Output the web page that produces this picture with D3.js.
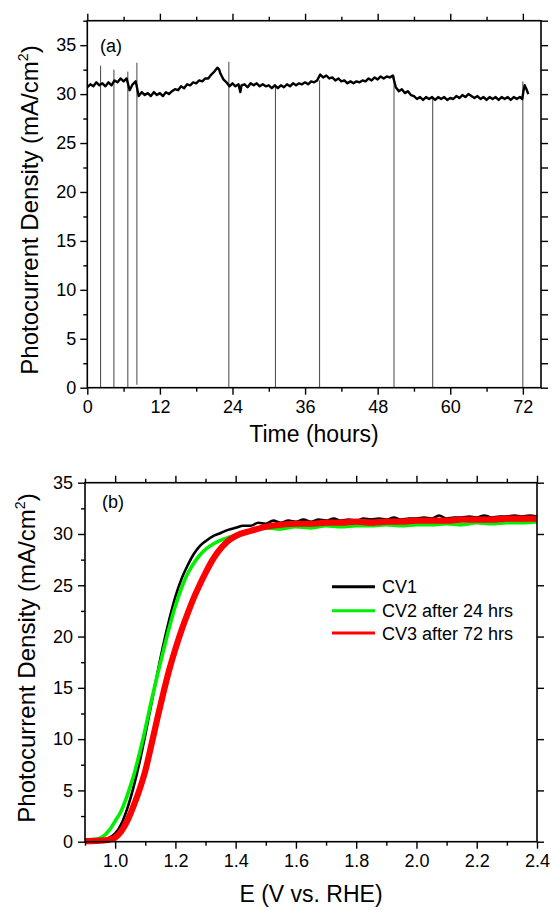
<!DOCTYPE html>
<html>
<head>
<meta charset="utf-8">
<script src="https://cdn.jsdelivr.net/npm/d3@7"></script>
<style>
  body { margin: 0; background: #fff; }
  svg { display: block; font-family: "Liberation Sans", Arial, sans-serif; }
</style>
</head>
<body>
<div id="chart"></div>
<script>
// ---- panel (a): stability run, [hours, mA/cm2] ----
const timeTrace = [
  [0,30.7],[0.5,31.0],[1,30.8],[1.5,31.2],[2,30.9],
  [2.5,31.1],[3,30.8],[3.5,31.2],[4,30.9],
  [4.5,31.4],[5,31.2],[5.5,31.6],[6,31.3],[6.5,31.6],
  [7,30.4],[7.5,31.0],[8,31.3],
  [8.5,29.8],[9,30.2],[9.5,29.9],[10,30.1],[10.5,29.8],[11,30.2],[11.5,29.9],[12,30.1],[12.5,29.8],[13,30.2],[13.5,30.0],
  [14,30.3],[14.5,30.5],[15,30.4],[15.5,30.8],[16,30.6],[16.5,31.0],[17,30.9],[17.5,31.2],[18,31.1],[18.5,31.4],[19,31.3],
  [19.5,31.6],[20,31.6],[20.5,32.0],[21,32.3],[21.5,32.7],[21.8,32.5],[22,32.1],[22.5,31.5],[23,31.2],
  [23.5,30.8],[24,31.1],[24.5,30.8],[25,31.0],[25.3,30.2],[25.5,30.9],[26,31.0],[26.5,30.7],[27,31.1],[27.5,30.9],[28,31.1],
  [28.5,30.8],[29,31.0],[29.5,30.8],[30,30.9],[30.5,30.6],[31,30.9],
  [31.5,30.6],[32,30.9],[32.5,30.7],[33,31.0],[33.5,30.8],[34,31.1],[34.5,30.9],[35,31.1],[35.5,31.0],[36,31.2],
  [36.5,31.0],[37,31.3],[37.5,31.2],[38,31.4],
  [38.5,32.0],[39,31.7],[39.5,31.9],[40,31.6],[40.5,31.7],[41,31.4],[41.5,31.6],[42,31.3],[42.5,31.4],[43,31.1],
  [43.5,31.3],[44,31.1],[44.5,31.3],[45,31.2],[45.5,31.4],[46,31.3],[46.5,31.6],[47,31.4],[47.5,31.7],[48,31.5],
  [48.5,31.8],[49,31.6],[49.5,31.8],[50,31.7],[50.5,31.9],
  [51,30.7],[51.5,30.3],[52,30.5],[52.5,30.1],[53,30.3],[53.5,29.9],[54,29.8],[54.5,29.5],[55,29.7],[55.5,29.4],
  [56,29.7],[56.5,29.5],[57,29.7],
  [57.5,29.4],[58,29.7],[58.5,29.5],[59,29.7],[59.5,29.4],[60,29.6],[60.5,29.5],[61,29.8],[61.5,29.6],[62,29.9],
  [62.5,29.7],[63,30.0],[63.5,29.8],[64,29.6],[64.5,29.8],[65,29.5],[65.5,29.7],[66,29.4],[66.5,29.7],[67,29.5],
  [67.5,29.7],[68,29.4],[68.5,29.7],[69,29.5],[69.5,29.7],[70,29.4],[70.5,29.7],[71,29.5],[71.5,29.7],[71.9,29.5],
  [72.1,30.3],[72.3,30.9],[72.6,30.5],[72.9,30.0]
];
// light-off interruptions
const spikeHours = [2.2, 4.4, 6.7, 8.2, 23.4, 31.1, 38.4, 50.7, 57.1, 72.0];
const spikeTop   = [32.9, 32.5, 32.3, 33.2, 33.3, 31.0, 31.4, 31.9, 29.7, 31.3];
const spikeLow   = [0, 0, 0, 0.3, 0, 0, 0, 0, 0, 0];

const hourTicks = [0, 12, 24, 36, 48, 60, 72];
const hourMinor = [6, 18, 30, 42, 54, 66];
const jTicksA = [0, 5, 10, 15, 20, 25, 30, 35];
const jMinorA = [2.5, 7.5, 12.5, 17.5, 22.5, 27.5, 32.5, 37.5];

// ---- panel (b): CV scans, [E V vs RHE, mA/cm2] ----
const cv1 = [
  [0.90,0.05],[0.94,0.1],[0.97,0.25],[0.99,0.55],[1.00,0.8],[1.02,1.7],[1.04,3.2],[1.06,5.2],[1.08,7.6],[1.10,10.4],
  [1.12,13.4],[1.14,16.4],[1.16,19.2],[1.18,21.7],[1.20,23.9],[1.22,25.6],[1.24,26.9],[1.26,28.0],[1.28,28.8],
  [1.300,29.3],[1.325,29.8],[1.350,30.1],[1.375,30.4],[1.400,30.6],[1.425,30.8],[1.450,30.8],[1.475,31.1],[1.500,31.0],
  [1.525,31.3],[1.550,31.1],[1.575,31.3],[1.600,31.2],[1.625,31.4],[1.650,31.2],[1.675,31.4],[1.700,31.3],[1.725,31.5],
  [1.750,31.3],[1.775,31.4],[1.800,31.3],[1.825,31.5],[1.850,31.4],[1.875,31.5],[1.900,31.4],[1.925,31.6],[1.950,31.4],
  [1.975,31.5],[2.000,31.5],[2.025,31.6],[2.050,31.5],[2.075,31.8],[2.100,31.5],[2.125,31.6],[2.150,31.6],[2.175,31.7],
  [2.200,31.6],[2.225,31.8],[2.250,31.6],[2.275,31.7],[2.300,31.7],[2.325,31.8],[2.350,31.7],[2.375,31.8],[2.400,31.7]
];
const cv2 = [
  [0.90,0.15],[0.94,0.25],[0.96,0.5],[0.98,1.1],[1.00,2.0],[1.02,3.0],[1.04,4.5],[1.06,6.3],[1.08,8.5],[1.10,11.0],
  [1.12,13.7],[1.14,16.2],[1.16,18.6],[1.18,20.9],[1.20,23.0],[1.22,24.7],[1.24,26.1],[1.26,27.1],[1.28,27.9],
  [1.30,28.5],[1.33,29.1],[1.36,29.5],[1.40,29.9],[1.45,30.3],[1.50,30.6],[1.55,30.5],[1.60,30.7],[1.65,30.6],
  [1.70,30.8],[1.75,30.7],[1.80,30.8],[1.85,30.8],[1.90,30.9],[1.95,30.8],[2.00,30.9],[2.05,30.9],[2.10,31.0],
  [2.15,30.9],[2.20,31.1],[2.25,31.0],[2.30,31.1],[2.35,31.1],[2.40,31.2]
];
const cv3 = [
  [0.90,0.05],[0.95,0.1],[0.98,0.2],[1.00,0.4],[1.02,1.0],[1.04,2.0],[1.06,3.4],[1.08,5.0],[1.10,6.9],[1.12,9.4],
  [1.14,12.0],[1.16,14.5],[1.18,16.8],[1.20,18.8],[1.22,20.6],[1.24,22.2],[1.26,23.7],[1.28,25.0],[1.30,26.2],
  [1.32,27.3],[1.34,28.2],[1.37,29.2],[1.40,29.8],[1.45,30.3],[1.50,30.7],[1.55,30.9],[1.60,31.0],[1.65,31.0],
  [1.70,31.1],[1.75,31.1],[1.80,31.2],[1.85,31.1],[1.90,31.2],[1.95,31.2],[2.00,31.3],[2.05,31.3],[2.10,31.3],
  [2.15,31.4],[2.20,31.4],[2.25,31.4],[2.30,31.5],[2.35,31.5],[2.40,31.5]
];
const cvNames = ["CV1", "CV2 after 24 hrs", "CV3 after 72 hrs"];

const eTicks = [1.0, 1.2, 1.4, 1.6, 1.8, 2.0, 2.2, 2.4];
const eMinor = [0.9, 1.1, 1.3, 1.5, 1.7, 1.9, 2.1, 2.3];
const jTicksB = [0, 5, 10, 15, 20, 25, 30, 35];
const jMinorB = [2.5, 7.5, 12.5, 17.5, 22.5, 27.5, 32.5];

const W = 552, H = 910;
const svg = d3.select("#chart").append("svg").attr("width", W).attr("height", H);
svg.append("rect").attr("width", W).attr("height", H).attr("fill", "#fff");

// draws the boxed frame with ticks all round
function frame(x, y, o) {
  const [x0, x1] = x.range(), [y0, y1] = y.range();
  const g = svg.append("g");
  const tickStyle = sel => {
    sel.select(".domain").remove();
    sel.selectAll("line").attr("stroke", "#000").attr("stroke-width", 1.4);
    sel.selectAll("text").attr("fill", "#000").attr("font-size", 18).attr("font-family", null);
  };
  g.append("g").attr("transform", `translate(0,${y0})`)
    .call(d3.axisBottom(x).tickValues(o.xMajor).tickFormat(o.xFmt).tickSize(7).tickPadding(6)).call(tickStyle);
  g.append("g").attr("transform", `translate(0,${y0})`)
    .call(d3.axisBottom(x).tickValues(o.xMinor).tickFormat("").tickSize(4)).call(tickStyle);
  g.append("g").attr("transform", `translate(0,${y1})`)
    .call(d3.axisTop(x).tickValues(o.xMajor).tickFormat("").tickSize(7)).call(tickStyle);
  g.append("g").attr("transform", `translate(0,${y1})`)
    .call(d3.axisTop(x).tickValues(o.xMinor).tickFormat("").tickSize(4)).call(tickStyle);
  g.append("g").attr("transform", `translate(${x0},0)`)
    .call(d3.axisLeft(y).tickValues(o.yMajor).tickFormat(d3.format("d")).tickSize(7).tickPadding(o.yPad)).call(tickStyle);
  g.append("g").attr("transform", `translate(${x0},0)`)
    .call(d3.axisLeft(y).tickValues(o.yMinor).tickFormat("").tickSize(4)).call(tickStyle);
  g.append("g").attr("transform", `translate(${x1},0)`)
    .call(d3.axisRight(y).tickValues(o.yRight).tickFormat("").tickSize(7)).call(tickStyle);
  g.append("rect").attr("x", x0).attr("y", y1).attr("width", x1 - x0).attr("height", y0 - y1)
    .attr("fill", "none").attr("stroke", "#000").attr("stroke-width", 1.6);
  return g;
}

function yTitle(cx, cy, size) {
  const t = svg.append("text").attr("transform", `translate(${cx},${cy}) rotate(-90)`)
    .attr("text-anchor", "middle").attr("font-size", size).attr("fill", "#000");
  t.append("tspan").text("Photocurrent Density (mA/cm");
  t.append("tspan").attr("font-size", size * 0.6).attr("dy", -size * 0.4).text("2");
  t.append("tspan").attr("dy", size * 0.4).text(")");
}

// ===== panel (a) =====
const xA = d3.scaleLinear().domain([0, 75]).range([87.3, 541]);
const yA = d3.scaleLinear().domain([0, 37.5]).range([387.7, 20.7]);

svg.append("g").selectAll("line").data(spikeHours).join("line")
  .attr("x1", d => xA(d)).attr("x2", d => xA(d))
  .attr("y1", (d, i) => yA(spikeTop[i])).attr("y2", (d, i) => yA(spikeLow[i]))
  .attr("stroke", "#444").attr("stroke-width", 1);

svg.append("path").datum(timeTrace)
  .attr("d", d3.line().x(d => xA(d[0])).y(d => yA(d[1])))
  .attr("fill", "none").attr("stroke", "#000").attr("stroke-width", 2.4).attr("stroke-linejoin", "round");

frame(xA, yA, { xMajor: hourTicks, xMinor: hourMinor, xFmt: d3.format("d"),
  yMajor: jTicksA, yMinor: jMinorA, yRight: jTicksA.concat(jMinorA), yPad: 4 });

svg.append("text").attr("x", 100).attr("y", 52).attr("font-size", 18).text("(a)");
svg.append("text").attr("x", 314).attr("y", 442).attr("text-anchor", "middle").attr("font-size", 23).text("Time (hours)");
yTitle(38, 210, 24);

// ===== panel (b) =====
const xB = d3.scaleLinear().domain([0.9, 2.4]).range([85, 537]);
const yB = d3.scaleLinear().domain([0, 35]).range([841.7, 482.7]);
const cvColors = ["#000000", "#00ee00", "#ff0000"];
const cvWidths = [2.6, 3.6, 6.2];

const lineB = d3.line().x(d => xB(d[0])).y(d => yB(d[1])).curve(d3.curveMonotoneX);
[cv1, cv2, cv3].forEach((s, i) => {
  svg.append("path").datum(s).attr("d", lineB)
    .attr("fill", "none").attr("stroke", cvColors[i]).attr("stroke-width", cvWidths[i]).attr("stroke-linejoin", "round");
});

frame(xB, yB, { xMajor: eTicks, xMinor: eMinor, xFmt: d3.format(".1f"),
  yMajor: jTicksB, yMinor: jMinorB, yRight: jTicksB, yPad: 5 });

svg.append("text").attr("x", 102).attr("y", 508).attr("font-size", 18).text("(b)");
svg.append("text").attr("x", 311).attr("y", 902).attr("text-anchor", "middle").attr("font-size", 23).text("E (V vs. RHE)");
yTitle(35, 658, 24);

const leg = svg.append("g").selectAll("g").data(cvNames).join("g")
  .attr("transform", (d, i) => `translate(332,${[586.7, 610.7, 633][i]})`);
leg.append("line").attr("x1", 0).attr("x2", 43)
  .attr("stroke", (d, i) => cvColors[i]).attr("stroke-width", 3);
leg.append("text").attr("x", 50).attr("y", 6.5).attr("font-size", 18).text(d => d);
</script>
</body>
</html>
